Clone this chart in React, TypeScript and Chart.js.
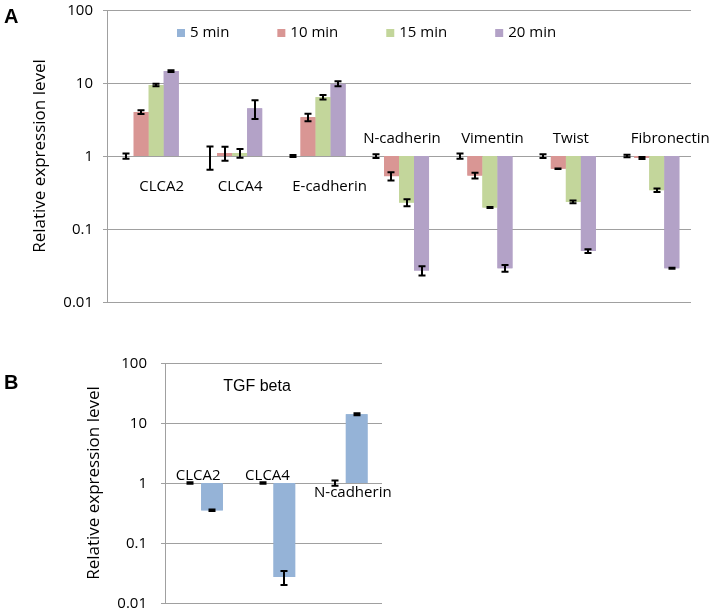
import React, { useEffect, useRef } from 'react';
import { Chart, registerables } from 'chart.js';

Chart.register(...registerables);

// ---------------- data ----------------
const Y_TICKS = [0.01, 0.1, 1, 10, 100];
const Y_TICK_LABELS = ['0.01', '0.1', '1', '10', '100'];
const Y_TITLE = 'Relative expression level';

const CATEGORIES_A = ['CLCA2', 'CLCA4', 'E-cadherin', 'N-cadherin', 'Vimentin', 'Twist', 'Fibronectin'];
const SERIES_A = ['5 min', '10 min', '15 min', '20 min'];
const MIN5 = [1, 1, 1, 1, 1, 1, 1];
const MIN5_ERR = [0.08, 0.35, 0.03, 0.06, 0.08, 0.06, 0.04];
const MIN10 = [4.0, 1.1, 3.4, 0.53, 0.54, 0.67, 0.94];
const MIN10_ERR = [0.25, 0.24, 0.4, 0.07, 0.05, 0.005, 0.03];
const MIN15 = [9.4, 1.1, 6.4, 0.23, 0.197, 0.235, 0.34];
const MIN15_ERR = [0.35, 0.15, 0.45, 0.025, 0.003, 0.01, 0.02];
const MIN20 = [14.6, 4.5, 9.8, 0.027, 0.029, 0.05, 0.029];
const MIN20_ERR = [0.4, 1.3, 0.8, 0.004, 0.003, 0.003, 0.0005];

const CATEGORIES_B = ['CLCA2', 'CLCA4', 'N-cadherin'];
const SERIES_B = ['Control', 'TGF beta'];
const TITLE_B = 'TGF beta';
const CONTROL_B = [1, 1, 1];
const CONTROL_B_ERR = [0.03, 0.03, 0.1];
const TGF_B = [0.35, 0.027, 14];
const TGF_B_ERR = [0.01, 0.007, 0.5];

// ---------------- styles / layout ----------------
const FONT = '"Open Sans", sans-serif';
const ARIAL = '"Liberation Sans", Arial, sans-serif';
const COLORS_A = ['#95B3D7', '#D99694', '#C3D69B', '#B3A2C7'];
const COLORS_B = ['#95B3D7', '#95B3D7'];
const GRID = '#a0a0a0';
// label horizontal nudges relative to category centre (px)
const LABEL_DX_A = [13, 8, 14, 3, 10, 5, 21];
const LABEL_DX_B = [-3, -6, 7];

type PanelCfg = {
  errors: number[][];
  labels: string[];
  labelDx: number[];
  labelDyPos: number;
  labelDyNeg: number;
  tickGap: number;
  titleX: number;
  panelLetter: string;
  letterY: number;
  legend?: { names: string[]; colors: string[]; x: number; y: number };
  heading?: { text: string; x: number; y: number };
};

function makeOverlay(cfg: PanelCfg) {
  return {
    id: 'overlay',
    afterDraw(chart: any) {
      const ctx = chart.ctx as CanvasRenderingContext2D;
      const xs = chart.scales.x;
      const ys = chart.scales.y;
      const area = chart.chartArea;
      const left = Math.round(area.left);
      const right = Math.round(area.right);
      ctx.save();
      // gridlines + axis
      ctx.strokeStyle = GRID;
      ctx.lineWidth = 1;
      Y_TICKS.forEach((v) => {
        const y = Math.round(ys.getPixelForValue(v)) + 0.5;
        ctx.beginPath();
        ctx.moveTo(left - 4, y);
        ctx.lineTo(right, y);
        ctx.stroke();
      });
      ctx.beginPath();
      ctx.moveTo(left + 0.5, Math.round(area.top));
      ctx.lineTo(left + 0.5, Math.round(area.bottom) + 1);
      ctx.stroke();
      // bars redrawn above the gridlines
      chart.data.datasets.forEach((_ds: any, d: number) => {
        const meta = chart.getDatasetMeta(d);
        meta.data.forEach((el: any) => el.draw(ctx, area));
      });
      // tick labels
      ctx.fillStyle = '#000';
      ctx.font = `15px ${FONT}`;
      ctx.textAlign = 'right';
      ctx.textBaseline = 'middle';
      Y_TICKS.forEach((v, k) => {
        ctx.fillText(Y_TICK_LABELS[k], left - cfg.tickGap, ys.getPixelForValue(v) + 1);
      });
      // error bars
      ctx.strokeStyle = '#000';
      ctx.lineWidth = 2;
      chart.data.datasets.forEach((ds: any, d: number) => {
        const meta = chart.getDatasetMeta(d);
        meta.data.forEach((el: any, i: number) => {
          const v = ds.data[i];
          const e = cfg.errors[d][i];
          const x = Math.round(el.x);
          const y1 = ys.getPixelForValue(v + e);
          const y2 = ys.getPixelForValue(v - e);
          ctx.beginPath();
          ctx.moveTo(x, y1);
          ctx.lineTo(x, y2);
          ctx.moveTo(x - 3.5, y1);
          ctx.lineTo(x + 3.5, y1);
          ctx.moveTo(x - 3.5, y2);
          ctx.lineTo(x + 3.5, y2);
          ctx.stroke();
        });
      });
      // category labels
      ctx.fillStyle = '#000';
      ctx.font = `15px ${FONT}`;
      ctx.textAlign = 'center';
      ctx.textBaseline = 'middle';
      const base = ys.getPixelForValue(1);
      cfg.labels.forEach((lab, i) => {
        let mx = 0;
        chart.data.datasets.forEach((ds: any) => { mx = Math.max(mx, ds.data[i]); });
        const dy = mx > 1.5 ? cfg.labelDyPos : cfg.labelDyNeg;
        ctx.fillText(lab, xs.getPixelForValue(i) + cfg.labelDx[i], base + dy);
      });
      // y title
      ctx.save();
      ctx.font = `17px ${FONT}`;
      ctx.translate(cfg.titleX, (area.top + area.bottom) / 2);
      ctx.rotate(-Math.PI / 2);
      ctx.fillText(Y_TITLE, 0, 0);
      ctx.restore();
      // legend
      if (cfg.legend) {
        const lg = cfg.legend;
        let x = lg.x;
        ctx.textAlign = 'left';
        ctx.font = `15px ${FONT}`;
        lg.names.forEach((n, k) => {
          ctx.fillStyle = lg.colors[k];
          ctx.fillRect(x, lg.y - 4, 8, 8);
          ctx.fillStyle = '#000';
          ctx.fillText(n, x + 13, lg.y);
          x += 13 + ctx.measureText(n).width + 48;
        });
      }
      // heading
      if (cfg.heading) {
        ctx.textAlign = 'center';
        ctx.font = `16px ${ARIAL}`;
        ctx.fillText(cfg.heading.text, cfg.heading.x, cfg.heading.y);
      }
      // panel letter
      ctx.textAlign = 'left';
      ctx.textBaseline = 'alphabetic';
      ctx.font = `bold 20px ${ARIAL}`;
      ctx.fillText(cfg.panelLetter, 4, cfg.letterY);
      ctx.restore();
    },
  };
}

function makeConfig(
  labels: string[],
  names: string[],
  values: number[][],
  colors: string[],
  catPct: number,
  axisW: number,
  padding: any,
  cfg: PanelCfg
): any {
  return {
    type: 'bar',
    data: {
      labels,
      datasets: names.map((label, k) => ({
        label,
        data: values[k],
        backgroundColor: colors[k],
        borderWidth: 0,
        base: 1,
        categoryPercentage: catPct,
        barPercentage: 1,
      })),
    },
    options: {
      responsive: false,
      animation: false,
      layout: { padding },
      plugins: { legend: { display: false }, tooltip: { enabled: false } },
      scales: {
        x: { display: false },
        y: {
          type: 'logarithmic',
          min: 0.01,
          max: 100,
          afterFit: (s: any) => {
            s.width = axisW;
          },
          ticks: { display: false },
          grid: { display: false },
          border: { display: false },
        },
      },
    },
    plugins: [makeOverlay(cfg)],
  };
}

export default function App() {
  const refA = useRef<HTMLCanvasElement>(null);
  const refB = useRef<HTMLCanvasElement>(null);

  useEffect(() => {
    const chartA = new Chart(
      refA.current!,
      makeConfig(
        CATEGORIES_A,
        SERIES_A,
        [MIN5, MIN10, MIN15, MIN20],
        COLORS_A,
        0.72,
        107,
        { left: 0, top: 10, right: 22, bottom: 28 },
        {
          errors: [MIN5_ERR, MIN10_ERR, MIN15_ERR, MIN20_ERR],
          labels: CATEGORIES_A,
          labelDx: LABEL_DX_A,
          labelDyPos: 31,
          labelDyNeg: -17,
          tickGap: 14,
          titleX: 40,
          panelLetter: 'A',
          letterY: 23,
          legend: { names: SERIES_A, colors: COLORS_A, x: 177, y: 33 },
        }
      )
    );
    const chartB = new Chart(
      refB.current!,
      makeConfig(
        CATEGORIES_B,
        SERIES_B,
        [CONTROL_B, TGF_B],
        COLORS_B,
        0.6,
        165,
        { left: 0, top: 33, right: 331, bottom: 10 },
        {
          errors: [CONTROL_B_ERR, TGF_B_ERR],
          labels: CATEGORIES_B,
          labelDx: LABEL_DX_B,
          labelDyPos: 10,
          labelDyNeg: -7,
          tickGap: 18,
          titleX: 94,
          panelLetter: 'B',
          letterY: 59,
          heading: { text: TITLE_B, x: 257, y: 57 },
        }
      )
    );
    return () => {
      chartA.destroy();
      chartB.destroy();
    };
  }, []);

  return (
    <div style={{ position: 'absolute', left: 0, top: 0, width: 713, height: 613, background: '#fff' }}>
      <canvas ref={refA} width={713} height={330} style={{ position: 'absolute', left: 0, top: 0, display: 'block' }} />
      <canvas ref={refB} width={713} height={283} style={{ position: 'absolute', left: 0, top: 330, display: 'block' }} />
    </div>
  );
}
